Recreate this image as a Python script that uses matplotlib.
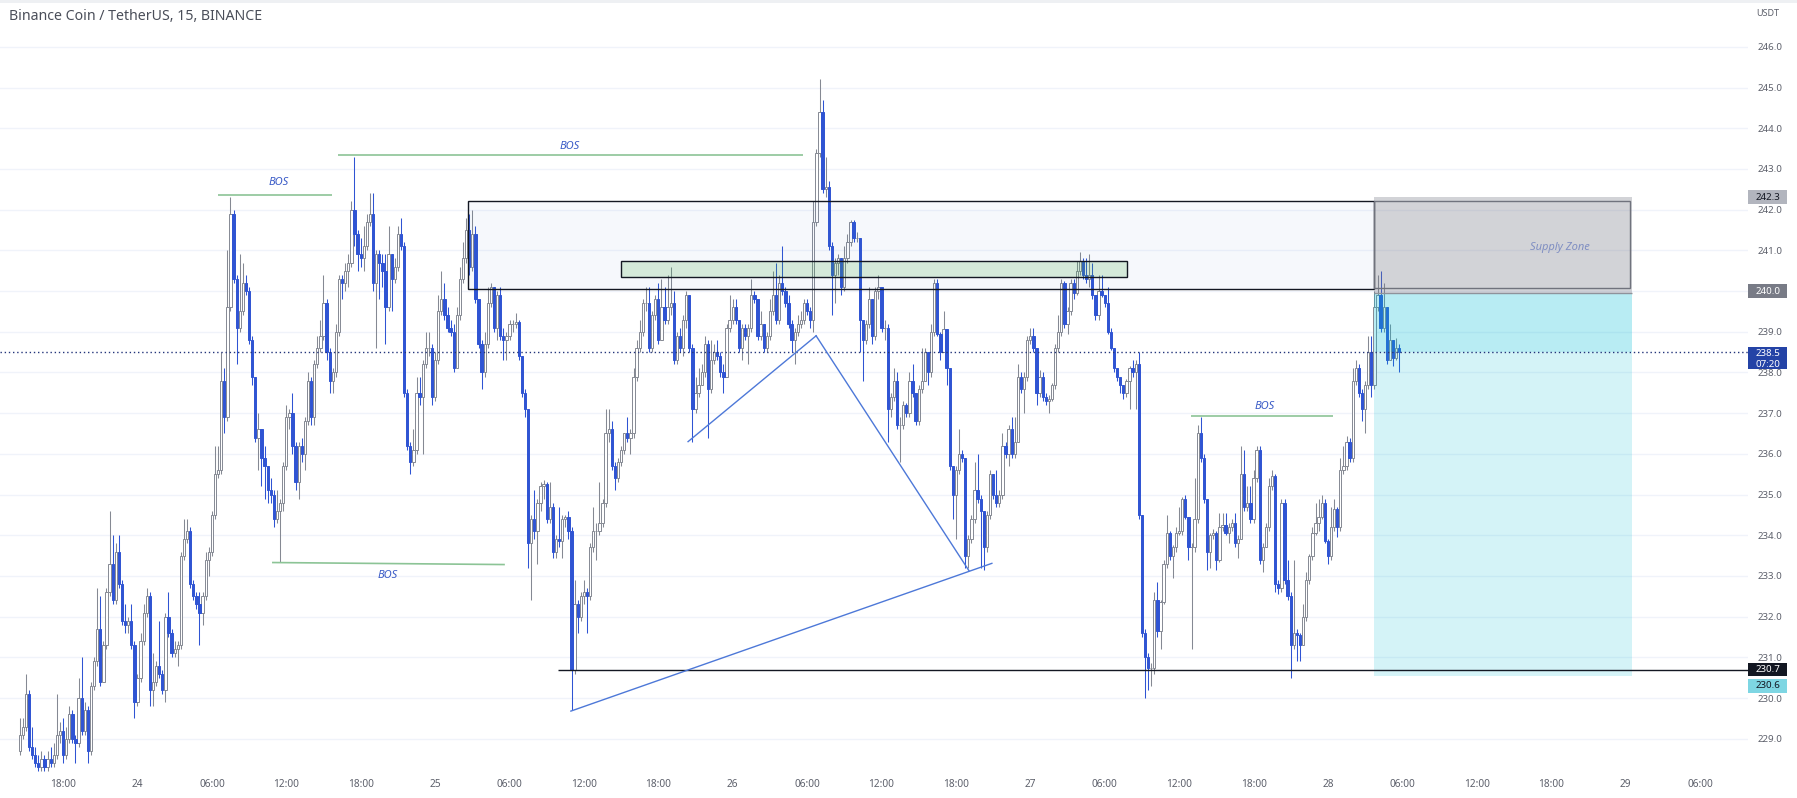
import numpy as np
import matplotlib
matplotlib.use("Agg")
import matplotlib.pyplot as plt
import matplotlib.transforms as mtransforms
from matplotlib.patches import Rectangle

plt.rcParams['font.family'] = ['Noto Sans', 'DejaVu Sans']

# ---- BNB/USDT 15 min bars, index 0 = 24th 00:00, first bar = 23rd 14:30 ----
first_bar = -38
first_open = 228.7

close_px = [
    # k -38 .. -2
    229.1, 229.3, 230.1, 228.8, 228.6, 228.4, 228.3, 228.5, 228.3, 228.5,
    228.4, 228.6, 229.1, 229.2, 228.6, 229.0, 229.6, 229.0, 228.9, 230.0,
    229.2, 229.7, 228.7, 230.3, 230.9, 231.7, 230.4, 231.3, 232.6, 233.3,
    232.4, 233.6, 232.8, 231.9, 231.8, 231.9, 231.3,
    # k -1 .. 36
    229.9, 230.5, 231.4, 232.1, 232.5, 230.2, 230.4, 230.8, 230.6, 230.2,
    232.0, 231.6, 231.1, 231.2, 231.3, 233.5, 233.9, 234.1, 232.8, 232.5,
    232.3, 232.1, 232.5, 233.4, 233.6, 234.5, 235.5, 235.6, 237.8, 236.9,
    239.6, 241.9, 240.3, 239.1, 239.5, 240.2, 240.0, 238.8,
    # k 37 .. 109
    237.9, 236.4, 236.6, 235.9, 235.7, 235.1, 235.0, 234.4, 234.6, 234.8,
    235.7, 236.9, 237.0, 236.2, 235.3, 236.2, 236.0, 236.8, 237.8, 236.9,
    238.2, 238.6, 238.9, 239.7, 238.5, 237.8, 238.0, 239.0, 240.3, 240.2,
    240.5, 240.7, 242.0, 241.4, 240.9, 240.8, 241.1, 241.7, 241.9, 240.2,
    240.9, 240.7, 240.5, 239.6, 240.9, 240.3, 240.6, 241.4, 241.1, 237.5,
    236.2, 235.8, 236.1, 237.5, 237.4, 238.2, 238.6, 238.6, 237.4, 238.3,
    239.5, 239.8, 239.4, 239.1, 239.0, 238.1, 239.4, 240.3, 240.8, 241.5,
    240.6, 241.4, 239.8,
    # k 110 .. 139
    238.7, 238.0, 238.7, 239.7, 240.1, 239.1, 239.9, 238.9, 238.8, 238.9,
    239.2, 239.2, 239.25, 238.4, 237.5, 237.1, 233.8, 234.4, 234.1, 234.8,
    235.2, 235.25, 234.4, 234.7, 233.6, 233.9, 233.85, 234.4, 234.45, 234.1,
    # k 140 .. 184
    230.7, 232.3, 232.0, 232.5, 232.6, 232.5, 233.7, 234.1, 234.1, 234.3,
    234.8, 236.5, 236.6, 235.7, 235.4, 235.8, 236.1, 236.5, 236.4, 236.5,
    237.9, 238.6, 239.0, 239.7, 239.7, 238.6, 239.4, 239.8, 238.8, 239.6,
    239.3, 239.6, 239.7, 238.3, 238.9, 238.6, 239.3, 239.9, 238.6, 237.1,
    237.5, 237.7, 238.0, 238.7, 237.6,
    # k 185 .. 258
    238.3, 238.5, 238.4, 238.0, 237.9, 239.1, 239.3, 239.6, 239.3, 238.6,
    239.1, 238.9, 239.1, 239.9, 239.8, 238.9, 239.2, 238.6, 238.9, 239.5,
    239.9, 239.3, 240.2, 240.0, 239.7, 239.2, 238.8, 239.0, 239.2, 239.3,
    239.7, 239.5, 239.3, 241.7, 243.4, 244.4, 242.5, 242.55, 241.1, 240.4,
    240.7, 240.8, 240.1, 240.8, 241.2, 241.7, 241.3, 241.3, 239.3, 238.8,
    239.2, 239.8, 238.9, 240.0, 240.1, 239.1, 239.1, 237.1, 237.4, 237.8,
    236.7, 236.7, 237.2, 237.0, 237.8, 237.5, 236.8, 237.6, 237.8, 238.5,
    238.0, 239.0, 240.2, 238.95,
    # k 259 .. 323
    238.5, 239.07, 238.1, 235.7, 235.0, 235.6, 236.0, 235.9, 233.5, 233.9,
    234.4, 235.1, 234.9, 234.6, 233.7, 234.5, 235.5, 235.0, 234.8, 235.0,
    236.2, 236.0, 236.6, 236.0, 236.3, 237.9, 237.6, 237.9, 238.8, 238.9,
    238.6, 237.5, 237.9, 237.4, 237.3, 237.35, 237.7, 238.6, 239.0, 240.2,
    239.2, 239.5, 240.2, 239.95, 240.5, 240.75, 240.4, 240.3, 240.4, 239.9,
    239.4, 240.0, 239.9, 239.7, 239.0, 238.6, 238.1, 237.9, 237.7, 237.5,
    237.8, 238.1, 238.0, 238.2, 234.5,
    # k 324 .. 407
    231.6, 231.0, 230.75, 230.75, 232.4, 231.65, 232.35, 233.3, 234.05, 233.5,
    233.7, 234.05, 234.1, 234.9, 234.45, 233.7, 233.7, 234.4, 236.5, 235.9,
    234.9, 233.6, 234.0, 234.05, 233.4, 234.2, 234.25, 234.05, 234.2, 234.3,
    233.8, 233.9, 235.5, 234.7, 234.8, 234.4, 235.4, 236.1, 233.4, 233.7,
    234.2, 235.2, 235.45, 232.8, 232.7, 234.8, 232.9, 232.5, 231.3, 231.6,
    231.55, 231.3, 232.0, 232.9, 233.5, 234.05, 234.3, 234.45, 234.8, 233.85,
    233.5, 234.2, 234.65, 234.2, 235.6, 235.7, 236.3, 235.9, 237.8, 238.1,
    237.5, 237.1, 237.7, 238.5, 237.7, 239.6, 239.9,
    239.1, 239.6, 238.3, 238.8, 238.35, 238.6, 238.5,
]

high_px = [
    229.5, 229.5, 230.6, 230.2, 229.3, 228.8, 228.6, 228.7, 228.6, 228.7,
    228.8, 228.9, 230.1, 229.4, 229.5, 229.3, 229.8, 229.7, 229.1, 230.5,
    231.0, 229.9, 229.8, 230.4, 231.0, 232.7, 232.5, 231.4, 232.7, 234.6,
    234.0, 233.8, 234.0, 232.9, 232.3, 232.0, 232.3,
    231.4, 230.6, 231.6, 232.3, 232.7, 232.6, 231.1, 230.9, 231.9, 230.7,
    232.1, 232.6, 231.7, 231.4, 231.4, 233.6, 234.4, 234.4, 234.2, 232.9,
    232.6, 232.6, 232.6, 233.6, 233.7, 234.6, 236.2, 236.2, 238.5, 238.1,
    241.0, 242.3, 242.0, 240.4, 240.9, 240.7, 240.4, 240.1,
    238.9, 237.9, 237.0, 236.6, 236.2, 235.7, 235.4, 235.1, 235.1, 234.9,
    235.8, 237.2, 237.1, 237.5, 236.3, 236.3, 236.4, 236.9, 238.0, 237.9,
    238.3, 238.9, 239.3, 240.4, 239.8, 238.6, 238.1, 239.2, 240.4, 240.4,
    240.7, 240.9, 242.2, 243.3, 241.5, 241.3, 241.6, 241.9, 242.4, 242.4,
    241.0, 241.0, 240.9, 240.9, 241.6, 240.9, 240.8, 241.6, 241.8, 241.2,
    237.6, 236.3, 236.6, 237.9, 237.9, 238.3, 239.0, 239.0, 238.7, 238.5,
    239.9, 240.5, 240.2, 239.6, 239.3, 239.2, 239.6, 240.6, 241.2, 241.8,
    241.9, 242.0, 241.6,
    239.8, 238.8, 239.0, 240.1, 240.2, 240.1, 240.0, 240.1, 239.1, 239.0,
    239.3, 239.3, 239.45, 239.3, 238.4, 237.6, 237.0, 234.5, 235.1, 234.9,
    235.3, 235.35, 235.3, 235.3, 234.8, 234.0, 234.7, 234.5, 234.5, 234.6,
    234.2, 232.9, 232.4, 232.6, 232.9, 232.7, 233.8, 234.7, 234.3, 235.3,
    234.9, 237.1, 237.1, 236.8, 235.8, 235.9, 236.2, 236.5, 236.9, 236.6,
    238.1, 238.8, 239.3, 239.8, 240.1, 240.1, 239.5, 239.9, 240.2, 240.3,
    240.1, 240.4, 240.6, 240.0, 239.0, 239.1, 239.4, 240.0, 239.9, 238.7,
    237.9, 238.1, 238.2, 238.9, 238.8,
    238.8, 238.7, 238.8, 238.5, 238.2, 239.2, 239.9, 239.8, 239.8, 239.3,
    239.2, 239.2, 239.2, 240.3, 240.0, 239.8, 239.5, 239.2, 239.0, 239.8,
    240.5, 240.7, 240.4, 241.1, 240.1, 239.9, 239.3, 239.1, 239.4, 239.5,
    239.8, 239.8, 239.6, 242.2, 243.5, 245.2, 244.7, 243.3, 242.7, 241.2,
    240.8, 240.9, 240.8, 241.1, 241.4, 241.75, 241.75, 241.45, 241.3, 239.3,
    239.3, 240.1, 239.8, 240.1, 240.4, 240.1, 239.3, 239.2, 237.5, 238.1,
    238.0, 236.9, 237.3, 237.25, 238.0, 238.2, 237.5, 237.7, 238.6, 238.6,
    238.5, 239.2, 240.3, 240.3,
    239.0, 239.5, 239.0, 238.1, 235.7, 235.7, 236.6, 236.1, 235.9, 234.0,
    234.5, 235.8, 236.0, 235.0, 234.6, 234.6, 235.6, 235.5, 235.6, 235.1,
    236.5, 236.3, 236.7, 236.9, 236.9, 238.2, 238.0, 238.0, 238.9, 239.1,
    239.1, 238.6, 238.05, 238.0, 237.5, 237.45, 237.75, 238.7, 239.4, 240.3,
    240.25, 239.6, 240.3, 240.3, 240.75, 240.96, 240.8, 240.8, 240.9, 240.7,
    239.9, 240.4, 240.4, 239.8, 240.1, 239.1, 238.6, 238.1, 237.9, 237.7,
    237.85, 238.15, 238.3, 238.3, 238.5,
    234.4, 231.7, 231.1, 230.85, 232.6, 232.85, 232.4, 233.4, 234.5, 234.1,
    233.75, 234.2, 234.7, 234.95, 235.0, 234.45, 233.8, 235.4, 236.7, 236.9,
    236.0, 234.9, 234.05, 234.15, 234.1, 234.55, 234.55, 234.55, 234.3, 234.4,
    234.55, 234.0, 236.2, 236.1, 235.2, 235.2, 235.6, 236.2, 236.2, 233.8,
    234.3, 235.4, 235.6, 235.5, 232.9, 234.9, 234.9, 233.4, 232.6, 233.4,
    231.7, 231.6, 232.3, 233.1, 233.55, 234.2, 234.8, 234.9, 235.0, 234.9,
    233.9, 234.7, 234.9, 234.7, 235.9, 236.2, 236.45, 236.4, 238.1, 238.3,
    238.2, 237.6, 237.8, 238.9, 238.9, 240.0, 240.4,
    240.5, 240.2, 239.6, 239.2, 238.8, 238.85, 238.7,
]

low_px = [
    228.6, 229.0, 229.2, 228.7, 228.5, 228.3, 228.2, 228.2, 228.2, 228.2,
    228.3, 228.3, 228.5, 228.9, 228.4, 228.5, 228.9, 228.9, 228.4, 228.8,
    229.1, 229.1, 228.4, 228.6, 230.2, 230.8, 230.3, 230.8, 231.2, 232.5,
    232.3, 232.3, 232.7, 231.8, 231.6, 231.6, 231.2,
    229.5, 229.8, 230.4, 231.3, 232.0, 229.8, 229.8, 230.3, 230.5, 230.1,
    229.9, 231.5, 231.0, 231.0, 230.8, 231.2, 233.4, 233.8, 232.7, 232.4,
    232.2, 231.3, 231.8, 232.4, 233.0, 233.5, 234.4, 235.4, 235.5, 236.5,
    236.8, 239.5, 240.2, 238.2, 239.0, 239.4, 239.9, 238.7,
    237.7, 236.3, 235.6, 235.2, 234.9, 234.8, 234.8, 234.2, 234.3, 233.35,
    234.6, 235.6, 236.6, 236.0, 235.1, 234.9, 235.8, 235.6, 236.7, 236.7,
    236.7, 238.1, 238.5, 238.8, 238.3, 237.5, 237.5, 237.9, 238.9, 239.8,
    240.0, 240.1, 240.6, 241.1, 240.5, 240.6, 240.5, 241.0, 241.6, 240.0,
    238.6, 239.8, 240.1, 238.7, 239.5, 239.5, 240.2, 240.5, 241.0, 237.4,
    236.1, 235.5, 235.7, 236.0, 237.2, 236.0, 238.1, 238.4, 237.2, 237.3,
    238.2, 239.4, 239.3, 239.0, 238.9, 238.0, 238.1, 239.3, 240.2, 240.7,
    240.4, 240.5, 239.7,
    238.6, 237.6, 237.9, 238.6, 239.6, 239.0, 238.8, 238.8, 238.3, 238.3,
    238.8, 239.0, 239.1, 238.3, 237.4, 236.9, 233.2, 232.4, 233.9, 233.3,
    234.6, 234.9, 234.3, 234.3, 233.45, 233.45, 233.7, 233.45, 234.2, 233.9,
    229.7, 230.6, 231.6, 231.9, 232.3, 231.6, 232.4, 233.6, 233.4, 234.0,
    234.2, 234.7, 236.3, 235.6, 235.1, 235.3, 235.7, 236.0, 236.3, 236.0,
    236.4, 237.8, 238.5, 238.9, 239.5, 238.5, 238.5, 239.3, 238.7, 238.8,
    239.2, 239.2, 239.4, 238.2, 238.2, 238.5, 238.4, 239.1, 238.5, 236.3,
    237.0, 237.4, 237.7, 237.9, 236.4,
    237.5, 238.2, 238.3, 237.9, 237.5, 237.9, 239.0, 239.2, 239.2, 238.5,
    238.3, 238.8, 238.2, 239.0, 239.7, 238.8, 238.8, 238.5, 238.5, 238.8,
    239.4, 239.2, 239.2, 239.9, 239.6, 239.1, 238.5, 238.2, 238.9, 239.1,
    239.2, 239.4, 239.1, 239.0, 241.6, 243.3, 242.4, 242.3, 241.0, 239.4,
    239.7, 240.4, 239.9, 240.0, 240.7, 241.1, 241.2, 241.2, 238.5, 237.8,
    238.7, 239.1, 238.7, 238.8, 239.8, 239.0, 238.8, 236.3, 236.9, 237.3,
    236.6, 235.8, 236.6, 236.9, 236.9, 237.4, 236.7, 236.7, 237.5, 237.8,
    237.7, 237.9, 238.9, 238.9,
    238.3, 238.5, 237.7, 235.6, 234.4, 233.9, 235.5, 235.8, 233.2, 233.2,
    233.8, 234.3, 234.8, 233.2, 233.15, 233.6, 234.4, 234.9, 234.7, 234.7,
    234.9, 235.9, 235.7, 235.9, 235.9, 236.3, 237.5, 237.0, 237.8, 238.7,
    238.5, 237.2, 237.4, 237.3, 237.2, 237.0, 237.3, 237.6, 238.5, 238.9,
    239.1, 238.95, 239.4, 239.8, 239.9, 240.4, 240.3, 240.2, 240.1, 239.8,
    239.3, 239.3, 239.85, 239.6, 238.95, 238.55, 238.0, 237.8, 237.5, 237.35,
    237.4, 237.1, 237.9, 237.1, 234.4,
    231.5, 230.0, 230.2, 230.3, 230.6, 231.5, 231.2, 232.3, 233.2, 233.4,
    232.95, 233.6, 234.0, 234.0, 234.4, 233.4, 231.2, 233.6, 234.3, 235.8,
    234.8, 233.15, 233.2, 233.9, 233.15, 233.35, 234.1, 234.0, 233.8, 234.1,
    233.7, 233.45, 233.9, 234.6, 234.6, 234.3, 234.3, 235.3, 233.3, 233.1,
    233.7, 234.1, 235.1, 232.6, 232.55, 232.6, 232.8, 232.4, 230.5, 231.2,
    230.9, 230.9, 231.3, 231.9, 232.8, 233.4, 234.0, 234.1, 234.4, 233.8,
    233.3, 233.4, 234.1, 233.95, 234.1, 235.5, 235.6, 235.8, 235.8, 237.7,
    237.4, 236.8, 236.5, 237.6, 237.4, 237.6, 239.5,
    239.0, 239.0, 238.2, 238.3, 238.15, 238.3, 238.0,
]

# time axis: one label per 6 hours (24 bars)
time_ticks = list(range(-24, 505, 24))
time_labels = ['18:00', '24', '06:00', '12:00', '18:00', '25', '06:00', '12:00',
               '18:00', '26', '06:00', '12:00', '18:00', '27', '06:00', '12:00',
               '18:00', '28', '06:00', '12:00', '18:00', '29', '06:00']
price_ticks = list(range(229, 247))

# drawings on the chart, in (bar index, price)
bos_lines = [(26.0, 62.7, 242.36, 242.36), (64.6, 214.7, 243.33, 243.33),
             (43.4, 118.5, 233.33, 233.28), (339.8, 385.6, 236.92, 236.92)]
bos_labels = [(45.7, 242.67), (139.4, 243.55), (80.6, 233.0), (363.7, 237.16)]
trend_lines = [((139.8, 229.68), (275.6, 233.31)),
               ((177.6, 236.3), (218.9, 238.9)),
               ((218.9, 238.9), (268.2, 233.13))]
supply_box = (106.6, 398.9, 240.05, 242.2)
ob_box = (155.9, 319.1, 240.35, 240.75)
stop_zone = (398.9, 482.2, 239.96, 242.3)
zone_frame = (398.9, 481.5, 240.07, 242.2)
target_low = 230.55
entry_px = 240.0
last_px = 238.5
level_start, level_px = 135.6, 230.7

# ---- figure ----
W, H = 1797, 798
fig = plt.figure(figsize=(W / 100, H / 100), dpi=100)
ax = fig.add_axes([0, 23 / H, 1748 / W, 775 / H])
ax.set_xlim(-44.35, 519.5)
ax.set_ylim(228.11, 247.15)
for s in ax.spines.values():
    s.set_visible(False)

for p in price_ticks:
    ax.axhline(p, color='#f0f3fa', lw=1, zorder=0)

grey = '#858993'
blue = '#2f54d3'
closes = np.array(close_px)
opens = np.concatenate([[first_open], closes[:-1]])
highs = np.maximum(np.array(high_px), np.maximum(opens, closes))
lows = np.minimum(np.array(low_px), np.minimum(opens, closes))
x = first_bar + np.arange(len(closes))
up = closes >= opens
dn = ~up

ax.vlines(x[up], lows[up], highs[up], color=grey, lw=0.75, zorder=2)
ax.vlines(x[dn], lows[dn], highs[dn], color=blue, lw=0.75, zorder=2)
ax.bar(x[up], closes[up] - opens[up], bottom=opens[up], width=0.74,
       facecolor='white', edgecolor=grey, lw=0.7, zorder=3)
ax.bar(x[dn], opens[dn] - closes[dn], bottom=closes[dn], width=0.74,
       facecolor=blue, edgecolor=blue, lw=0.7, zorder=3)

# zones
x0, x1, y0, y1 = supply_box
ax.add_patch(Rectangle((x0, y0), x1 - x0, y1 - y0, facecolor=(0.25, 0.45, 0.8, 0.045),
                       edgecolor='#131722', lw=1, zorder=4))
x0, x1, y0, y1 = ob_box
ax.add_patch(Rectangle((x0, y0), x1 - x0, y1 - y0, facecolor=(0.3, 0.69, 0.31, 0.2),
                       edgecolor='#131722', lw=1, zorder=4))
x0, x1, y0, y1 = stop_zone
ax.add_patch(Rectangle((x0, y0), x1 - x0, y1 - y0, facecolor=(0.47, 0.48, 0.53, 0.33),
                       edgecolor='none', zorder=4))
ax.hlines(y0, x0, x1, color='#8f929b', lw=1, zorder=5)
fx0, fx1, fy0, fy1 = zone_frame
ax.add_patch(Rectangle((fx0, fy0), fx1 - fx0, fy1 - fy0, facecolor='none',
                       edgecolor='#70737d', lw=1, zorder=5))
ax.add_patch(Rectangle((x0, last_px), x1 - x0, y0 - last_px,
                       facecolor=(0.0, 0.74, 0.83, 0.28), edgecolor='none', zorder=4))
ax.add_patch(Rectangle((x0, target_low), x1 - x0, last_px - target_low,
                       facecolor=(0.0, 0.74, 0.83, 0.17), edgecolor='none', zorder=4))
ax.text(458.9, 241.08, 'Supply Zone', fontsize=8, style='italic', color='#7f8ec2',
        ha='center', va='center', zorder=6)

# levels
ax.hlines(level_px, level_start, 519.5, color='#131722', lw=1, zorder=5)
ax.axhline(last_px, color='#23347a', lw=1, ls=(0, (1, 2)), zorder=5)

for xa, xb, ya, yb in bos_lines:
    ax.plot([xa, xb], [ya, yb], color='#8cc496', lw=1.2, zorder=5, solid_capstyle='butt')
for xt, yt in bos_labels:
    ax.text(xt, yt, 'BOS', fontsize=8, style='italic', color='#3a5bc7',
            ha='center', va='center', zorder=6)
for (xa, ya), (xb, yb) in trend_lines:
    ax.plot([xa, xb], [ya, yb], color='#4d78d8', lw=1, zorder=5)

# axes ticks
ax.set_xticks(time_ticks)
ax.set_xticklabels(time_labels)
ax.tick_params(axis='x', length=0, pad=3, labelsize=7.3, labelcolor='#5d606b')
ax.yaxis.tick_right()
ax.set_yticks(price_ticks)
ax.set_yticklabels([f'{p:.1f}' for p in price_ticks])
ax.tick_params(axis='y', length=0, pad=7, labelsize=7, labelcolor='#5d606b')

# price scale tags
tag_tf = mtransforms.blended_transform_factory(fig.transFigure, ax.transData)


def price_tag(y, text, fc, tc, h=0.34, ty=None):
    ax.add_patch(Rectangle((1748 / W, y - h / 2), 39 / W, h, transform=tag_tf,
                           facecolor=fc, edgecolor='none', clip_on=False, zorder=10))
    ax.text(1768 / W, y if ty is None else ty, text, transform=tag_tf, ha='center',
            va='center', fontsize=7, color=tc, clip_on=False, zorder=11)


price_tag(242.3, '242.3', '#b2b5be', '#131722')
price_tag(entry_px, '240.0', '#787b86', 'white')
price_tag(level_px, '230.7', '#131722', 'white')
price_tag(230.3, '230.6', '#7ed6e3', '#131722')
price_tag(238.35, '238.5', '#2443a6', 'white', h=0.54, ty=238.47)
ax.text(1768 / W, 238.2, '07:20', transform=tag_tf, ha='center', va='center',
        fontsize=7, color='white', clip_on=False, zorder=11)

fig.text(1768 / W, 1 - 14 / H, 'USDT', fontsize=6.5, color='#5d606b', ha='center', va='center')
fig.text(9 / W, 1 - 17 / H, 'Binance Coin / TetherUS, 15, BINANCE', fontsize=10.2,
         color='#4a4e59', fontweight='semibold', ha='left', va='center')
fig.patches.append(Rectangle((0, 1 - 3 / H), 1, 3 / H, transform=fig.transFigure,
                             facecolor='#eef0f3', edgecolor='none'))

fig.savefig('out.png', dpi=100)
